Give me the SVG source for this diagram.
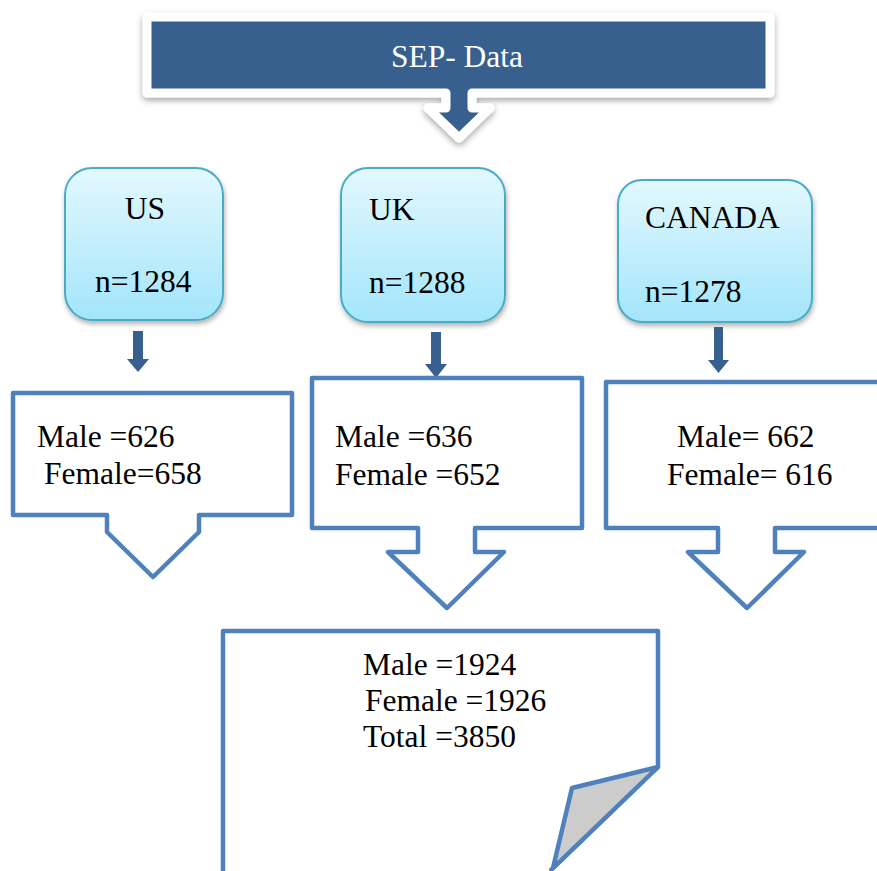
<svg xmlns="http://www.w3.org/2000/svg" width="877" height="871" viewBox="0 0 877 871">
<defs>
<linearGradient id="cyan" x1="0" y1="0" x2="0" y2="1">
<stop offset="0" stop-color="#e3f8fe"/>
<stop offset="1" stop-color="#a3e5fb"/>
</linearGradient>
<filter id="sh" x="-10%" y="-10%" width="120%" height="130%">
<feDropShadow dx="0" dy="3" stdDeviation="3" flood-color="#000" flood-opacity="0.35"/>
</filter>
<filter id="sh2" x="-10%" y="-10%" width="120%" height="130%">
<feDropShadow dx="1" dy="3" stdDeviation="2.5" flood-color="#000" flood-opacity="0.3"/>
</filter>
</defs>
<style>
text{font-family:'Liberation Serif','Times New Roman',serif;font-size:31.5px;fill:#000}
.country{fill:url(#cyan);stroke:#4aacc6;stroke-width:2}
.callout{fill:#fff;stroke:#4f81bd;stroke-width:4.5;stroke-linejoin:round}
.conn{fill:#37608f}
.white{fill:#fff}
</style>
<g id="sep-data">
<path d="M147,17 H770 V93 H472 V108 H490 L459,138 L428,108 H446 V93 H147 Z" fill="#37608f" stroke="#fff" stroke-width="9" stroke-linejoin="round" filter="url(#sh)"/>
<text class="white" x="457" y="67" text-anchor="middle" font-family="Liberation Serif, serif">SEP- Data</text>
</g>
<g id="us">
<rect class="country" x="65" y="168" width="158" height="152" rx="27" filter="url(#sh2)"/>
<text x="145" y="219" text-anchor="middle" font-family="Liberation Serif, serif">US</text>
<text x="95" y="292" font-family="Liberation Serif, serif">n=1284</text>
</g>
<g id="uk">
<rect class="country" x="341" y="168" width="164" height="154" rx="27" filter="url(#sh2)"/>
<text x="369" y="220" font-family="Liberation Serif, serif">UK</text>
<text x="369" y="293" font-family="Liberation Serif, serif">n=1288</text>
</g>
<g id="canada">
<rect class="country" x="618" y="180" width="194" height="142" rx="24" filter="url(#sh2)"/>
<text x="645" y="228" font-family="Liberation Serif, serif">CANADA</text>
<text x="645" y="302" font-family="Liberation Serif, serif">n=1278</text>
</g>
<g id="connectors">
<path class="conn" d="M133,331 H143 V359 H149 L138,372 L127,359 H133 Z"/>
<path class="conn" d="M431,332 H441 V364 H447 L436,378 L425,364 H431 Z"/>
<path class="conn" d="M714,327 H723 V360 H729 L718.5,373 L708,360 H714 Z"/>
</g>
<g id="us-sex">
<path class="callout" d="M13,393 H292 V515 H199 V532 L153,577 L107,532 V515 H13 Z"/>
<text x="37" y="447" font-family="Liberation Serif, serif">Male =626</text>
<text x="44" y="484" font-family="Liberation Serif, serif">Female=658</text>
</g>
<g id="uk-sex">
<path class="callout" d="M312,378 H582 V528 H475 V552 H504 L447,608 L388,552 H418 V528 H312 Z"/>
<text x="335" y="447" font-family="Liberation Serif, serif">Male =636</text>
<text x="335" y="485" font-family="Liberation Serif, serif">Female =652</text>
</g>
<g id="canada-sex">
<path class="callout" d="M606,382 H895 V528 H775 V552 H804 L747,608 L688,552 H718 V528 H606 Z"/>
<text x="677" y="447" font-family="Liberation Serif, serif">Male= 662</text>
<text x="667" y="485" font-family="Liberation Serif, serif">Female= 616</text>
</g>
<g id="total">
<path class="callout" d="M223,880 V631 H658 V767 L550,871"/>
<path d="M658,767 L572,788 L553,868 Z" fill="#cccccc" stroke="#4f81bd" stroke-width="4.5" stroke-linejoin="round"/>
<text x="363" y="675" font-family="Liberation Serif, serif">Male =1924</text>
<text x="365" y="711" font-family="Liberation Serif, serif">Female =1926</text>
<text x="363" y="747" font-family="Liberation Serif, serif">Total =3850</text>
</g>
</svg>
